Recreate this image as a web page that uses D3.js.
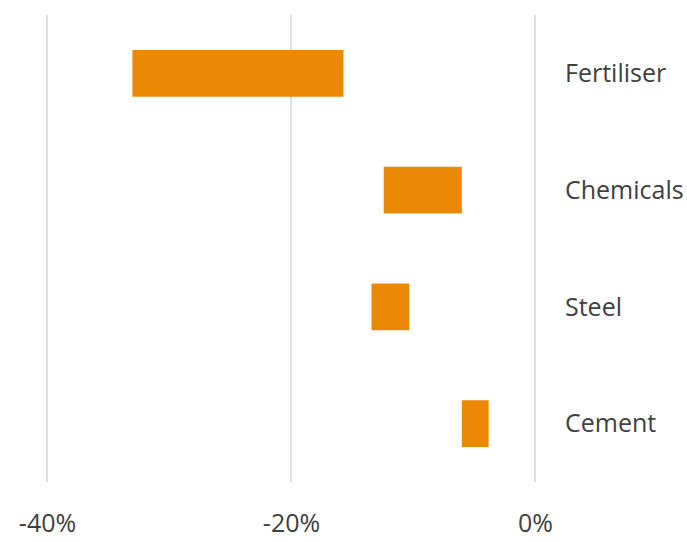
<!DOCTYPE html>
<html><head><meta charset="utf-8">
<script src="https://cdn.jsdelivr.net/npm/d3@7"></script>
<style>html,body{margin:0;padding:0;background:#fff;}</style>
</head><body>
<svg id="chart" width="687" height="542"></svg>
<script>
const categories = ["Fertiliser", "Chemicals", "Steel", "Cement"];
const lowValues = [-33.0, -12.4, -13.4, -6.0];
const highValues = [-15.7, -6.0, -10.3, -3.8];
const tickValues = [-40, -20, 0];
const tickLabels = ["-40%", "-20%", "0%"];

const svg = d3.select("#chart");
const x = d3.scaleLinear().domain([-40, 0]).range([47, 535]);
const y = d3.scaleBand().domain(categories).range([15, 482]).paddingInner(0.6).paddingOuter(0.3);
const font = "'Open Sans', sans-serif";
const textColor = "#404040";

// gridlines
svg.append("g").selectAll("line").data(tickValues).join("line")
  .attr("x1", d => x(d)).attr("x2", d => x(d))
  .attr("y1", 15).attr("y2", 482)
  .attr("stroke", "#e0e0e0").attr("stroke-width", 2);

// bars
svg.append("g").selectAll("rect").data(categories).join("rect")
  .attr("x", (d, i) => x(lowValues[i]))
  .attr("width", (d, i) => x(highValues[i]) - x(lowValues[i]))
  .attr("y", d => y(d))
  .attr("height", y.bandwidth())
  .attr("fill", "#EB8806");

// category labels
svg.append("g").selectAll("text").data(categories).join("text")
  .attr("x", 565).attr("y", d => y(d) + y.bandwidth() / 2)
  .attr("dy", "0.35em")
  .attr("font-family", font).attr("font-size", 25)
  .attr("fill", textColor)
  .text(d => d);

// x tick labels
const xAxis = d3.axisBottom(x).tickValues(tickValues).tickFormat((d, i) => tickLabels[i]).tickSize(0).tickPadding(0);
const gx = svg.append("g").attr("transform", "translate(0,514)").call(xAxis);
gx.select(".domain").remove();
gx.selectAll("text").attr("font-family", font).attr("font-size", 25).attr("fill", textColor).attr("dy", "0.71em");
</script>
</body></html>
